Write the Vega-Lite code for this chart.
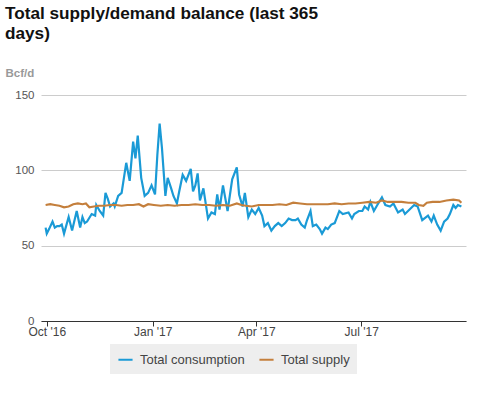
{
  "$schema": "https://vega.github.io/schema/vega-lite/v6.json",
  "width": 425,
  "height": 226,
  "autosize": "none",
  "padding": {"left": 41, "top": 95, "right": 11, "bottom": 72},
  "background": "white",
  "title": {
    "text": ["Total supply/demand balance (last 365", "days)"],
    "anchor": "start",
    "frame": "group",
    "dx": -36,
    "offset": 25,
    "font": "Liberation Sans",
    "fontSize": 17.2,
    "fontWeight": "bold",
    "color": "#111111",
    "lineHeight": 20
  },
  "config": {
    "view": {"stroke": null},
    "font": "Liberation Sans"
  },
  "data": {
    "values": [
      {"date": "2016-09-30", "series": "Total consumption", "value": 62},
      {"date": "2016-10-01", "series": "Total consumption", "value": 58},
      {"date": "2016-10-03", "series": "Total consumption", "value": 61},
      {"date": "2016-10-06", "series": "Total consumption", "value": 66},
      {"date": "2016-10-08", "series": "Total consumption", "value": 62},
      {"date": "2016-10-10", "series": "Total consumption", "value": 63},
      {"date": "2016-10-12", "series": "Total consumption", "value": 63},
      {"date": "2016-10-14", "series": "Total consumption", "value": 64},
      {"date": "2016-10-16", "series": "Total consumption", "value": 58},
      {"date": "2016-10-20", "series": "Total consumption", "value": 69},
      {"date": "2016-10-23", "series": "Total consumption", "value": 60},
      {"date": "2016-10-27", "series": "Total consumption", "value": 73},
      {"date": "2016-10-30", "series": "Total consumption", "value": 62},
      {"date": "2016-11-01", "series": "Total consumption", "value": 69},
      {"date": "2016-11-03", "series": "Total consumption", "value": 65},
      {"date": "2016-11-05", "series": "Total consumption", "value": 66},
      {"date": "2016-11-09", "series": "Total consumption", "value": 71},
      {"date": "2016-11-12", "series": "Total consumption", "value": 70},
      {"date": "2016-11-13", "series": "Total consumption", "value": 77},
      {"date": "2016-11-16", "series": "Total consumption", "value": 73},
      {"date": "2016-11-19", "series": "Total consumption", "value": 70},
      {"date": "2016-11-21", "series": "Total consumption", "value": 85},
      {"date": "2016-11-23", "series": "Total consumption", "value": 81},
      {"date": "2016-11-25", "series": "Total consumption", "value": 76},
      {"date": "2016-11-28", "series": "Total consumption", "value": 78},
      {"date": "2016-11-29", "series": "Total consumption", "value": 76},
      {"date": "2016-12-02", "series": "Total consumption", "value": 83},
      {"date": "2016-12-05", "series": "Total consumption", "value": 85},
      {"date": "2016-12-07", "series": "Total consumption", "value": 95},
      {"date": "2016-12-09", "series": "Total consumption", "value": 105},
      {"date": "2016-12-12", "series": "Total consumption", "value": 93},
      {"date": "2016-12-15", "series": "Total consumption", "value": 119},
      {"date": "2016-12-17", "series": "Total consumption", "value": 108},
      {"date": "2016-12-19", "series": "Total consumption", "value": 123},
      {"date": "2016-12-22", "series": "Total consumption", "value": 95},
      {"date": "2016-12-25", "series": "Total consumption", "value": 83},
      {"date": "2016-12-28", "series": "Total consumption", "value": 85},
      {"date": "2016-12-31", "series": "Total consumption", "value": 90},
      {"date": "2017-01-03", "series": "Total consumption", "value": 84},
      {"date": "2017-01-05", "series": "Total consumption", "value": 110},
      {"date": "2017-01-07", "series": "Total consumption", "value": 131},
      {"date": "2017-01-09", "series": "Total consumption", "value": 115},
      {"date": "2017-01-12", "series": "Total consumption", "value": 83},
      {"date": "2017-01-14", "series": "Total consumption", "value": 95},
      {"date": "2017-01-17", "series": "Total consumption", "value": 88},
      {"date": "2017-01-19", "series": "Total consumption", "value": 83},
      {"date": "2017-01-22", "series": "Total consumption", "value": 78},
      {"date": "2017-01-24", "series": "Total consumption", "value": 86},
      {"date": "2017-01-27", "series": "Total consumption", "value": 97},
      {"date": "2017-01-30", "series": "Total consumption", "value": 93},
      {"date": "2017-02-03", "series": "Total consumption", "value": 101},
      {"date": "2017-02-05", "series": "Total consumption", "value": 86},
      {"date": "2017-02-07", "series": "Total consumption", "value": 90},
      {"date": "2017-02-09", "series": "Total consumption", "value": 98},
      {"date": "2017-02-11", "series": "Total consumption", "value": 80},
      {"date": "2017-02-14", "series": "Total consumption", "value": 88},
      {"date": "2017-02-18", "series": "Total consumption", "value": 68},
      {"date": "2017-02-21", "series": "Total consumption", "value": 72},
      {"date": "2017-02-24", "series": "Total consumption", "value": 71},
      {"date": "2017-02-26", "series": "Total consumption", "value": 84},
      {"date": "2017-02-28", "series": "Total consumption", "value": 74},
      {"date": "2017-03-03", "series": "Total consumption", "value": 90},
      {"date": "2017-03-07", "series": "Total consumption", "value": 73},
      {"date": "2017-03-11", "series": "Total consumption", "value": 94},
      {"date": "2017-03-15", "series": "Total consumption", "value": 102},
      {"date": "2017-03-17", "series": "Total consumption", "value": 84},
      {"date": "2017-03-20", "series": "Total consumption", "value": 76},
      {"date": "2017-03-22", "series": "Total consumption", "value": 85},
      {"date": "2017-03-25", "series": "Total consumption", "value": 69},
      {"date": "2017-03-28", "series": "Total consumption", "value": 74},
      {"date": "2017-03-31", "series": "Total consumption", "value": 71},
      {"date": "2017-04-03", "series": "Total consumption", "value": 75},
      {"date": "2017-04-06", "series": "Total consumption", "value": 70},
      {"date": "2017-04-08", "series": "Total consumption", "value": 63},
      {"date": "2017-04-11", "series": "Total consumption", "value": 65},
      {"date": "2017-04-14", "series": "Total consumption", "value": 60},
      {"date": "2017-04-17", "series": "Total consumption", "value": 63},
      {"date": "2017-04-20", "series": "Total consumption", "value": 65},
      {"date": "2017-04-23", "series": "Total consumption", "value": 63},
      {"date": "2017-04-26", "series": "Total consumption", "value": 65},
      {"date": "2017-04-29", "series": "Total consumption", "value": 68},
      {"date": "2017-05-02", "series": "Total consumption", "value": 67},
      {"date": "2017-05-05", "series": "Total consumption", "value": 67},
      {"date": "2017-05-07", "series": "Total consumption", "value": 68},
      {"date": "2017-05-10", "series": "Total consumption", "value": 64},
      {"date": "2017-05-13", "series": "Total consumption", "value": 62},
      {"date": "2017-05-15", "series": "Total consumption", "value": 67},
      {"date": "2017-05-18", "series": "Total consumption", "value": 73},
      {"date": "2017-05-20", "series": "Total consumption", "value": 63},
      {"date": "2017-05-23", "series": "Total consumption", "value": 64},
      {"date": "2017-05-26", "series": "Total consumption", "value": 61},
      {"date": "2017-05-28", "series": "Total consumption", "value": 58},
      {"date": "2017-05-31", "series": "Total consumption", "value": 62},
      {"date": "2017-06-02", "series": "Total consumption", "value": 61},
      {"date": "2017-06-05", "series": "Total consumption", "value": 64},
      {"date": "2017-06-08", "series": "Total consumption", "value": 65},
      {"date": "2017-06-12", "series": "Total consumption", "value": 73},
      {"date": "2017-06-15", "series": "Total consumption", "value": 71},
      {"date": "2017-06-20", "series": "Total consumption", "value": 72},
      {"date": "2017-06-23", "series": "Total consumption", "value": 68},
      {"date": "2017-06-25", "series": "Total consumption", "value": 71},
      {"date": "2017-06-29", "series": "Total consumption", "value": 73},
      {"date": "2017-07-02", "series": "Total consumption", "value": 73},
      {"date": "2017-07-04", "series": "Total consumption", "value": 76},
      {"date": "2017-07-07", "series": "Total consumption", "value": 74},
      {"date": "2017-07-09", "series": "Total consumption", "value": 79},
      {"date": "2017-07-12", "series": "Total consumption", "value": 73},
      {"date": "2017-07-15", "series": "Total consumption", "value": 77},
      {"date": "2017-07-19", "series": "Total consumption", "value": 82},
      {"date": "2017-07-22", "series": "Total consumption", "value": 77},
      {"date": "2017-07-26", "series": "Total consumption", "value": 76},
      {"date": "2017-07-29", "series": "Total consumption", "value": 78},
      {"date": "2017-08-02", "series": "Total consumption", "value": 72},
      {"date": "2017-08-06", "series": "Total consumption", "value": 74},
      {"date": "2017-08-08", "series": "Total consumption", "value": 71},
      {"date": "2017-08-12", "series": "Total consumption", "value": 74},
      {"date": "2017-08-16", "series": "Total consumption", "value": 77},
      {"date": "2017-08-19", "series": "Total consumption", "value": 76},
      {"date": "2017-08-23", "series": "Total consumption", "value": 67},
      {"date": "2017-08-28", "series": "Total consumption", "value": 70},
      {"date": "2017-08-31", "series": "Total consumption", "value": 66},
      {"date": "2017-09-02", "series": "Total consumption", "value": 70},
      {"date": "2017-09-05", "series": "Total consumption", "value": 64},
      {"date": "2017-09-08", "series": "Total consumption", "value": 60},
      {"date": "2017-09-11", "series": "Total consumption", "value": 66},
      {"date": "2017-09-14", "series": "Total consumption", "value": 68},
      {"date": "2017-09-16", "series": "Total consumption", "value": 71},
      {"date": "2017-09-19", "series": "Total consumption", "value": 77},
      {"date": "2017-09-21", "series": "Total consumption", "value": 75},
      {"date": "2017-09-23", "series": "Total consumption", "value": 77},
      {"date": "2017-09-26", "series": "Total consumption", "value": 76},

      {"date": "2016-09-30", "series": "Total supply", "value": 77},
      {"date": "2016-10-04", "series": "Total supply", "value": 77.5},
      {"date": "2016-10-08", "series": "Total supply", "value": 77},
      {"date": "2016-10-12", "series": "Total supply", "value": 76.5},
      {"date": "2016-10-16", "series": "Total supply", "value": 75.5},
      {"date": "2016-10-20", "series": "Total supply", "value": 76},
      {"date": "2016-10-24", "series": "Total supply", "value": 77.5},
      {"date": "2016-10-28", "series": "Total supply", "value": 78},
      {"date": "2016-11-01", "series": "Total supply", "value": 77.5},
      {"date": "2016-11-04", "series": "Total supply", "value": 78},
      {"date": "2016-11-07", "series": "Total supply", "value": 75.5},
      {"date": "2016-11-11", "series": "Total supply", "value": 76},
      {"date": "2016-11-15", "series": "Total supply", "value": 76.5},
      {"date": "2016-11-20", "series": "Total supply", "value": 76.5},
      {"date": "2016-11-25", "series": "Total supply", "value": 77},
      {"date": "2016-11-30", "series": "Total supply", "value": 77},
      {"date": "2016-12-05", "series": "Total supply", "value": 76.5},
      {"date": "2016-12-10", "series": "Total supply", "value": 77},
      {"date": "2016-12-15", "series": "Total supply", "value": 77},
      {"date": "2016-12-20", "series": "Total supply", "value": 77.5},
      {"date": "2016-12-24", "series": "Total supply", "value": 76},
      {"date": "2016-12-28", "series": "Total supply", "value": 77.5},
      {"date": "2017-01-02", "series": "Total supply", "value": 77},
      {"date": "2017-01-08", "series": "Total supply", "value": 76.5},
      {"date": "2017-01-14", "series": "Total supply", "value": 77},
      {"date": "2017-01-20", "series": "Total supply", "value": 76.5},
      {"date": "2017-01-26", "series": "Total supply", "value": 77},
      {"date": "2017-02-01", "series": "Total supply", "value": 77},
      {"date": "2017-02-07", "series": "Total supply", "value": 77.5},
      {"date": "2017-02-13", "series": "Total supply", "value": 77},
      {"date": "2017-02-19", "series": "Total supply", "value": 77},
      {"date": "2017-02-25", "series": "Total supply", "value": 76.5},
      {"date": "2017-03-03", "series": "Total supply", "value": 77},
      {"date": "2017-03-09", "series": "Total supply", "value": 76.5},
      {"date": "2017-03-15", "series": "Total supply", "value": 78},
      {"date": "2017-03-19", "series": "Total supply", "value": 77},
      {"date": "2017-03-23", "series": "Total supply", "value": 76.5},
      {"date": "2017-03-28", "series": "Total supply", "value": 76},
      {"date": "2017-04-03", "series": "Total supply", "value": 77},
      {"date": "2017-04-09", "series": "Total supply", "value": 77},
      {"date": "2017-04-15", "series": "Total supply", "value": 77},
      {"date": "2017-04-21", "series": "Total supply", "value": 77.5},
      {"date": "2017-04-27", "series": "Total supply", "value": 77},
      {"date": "2017-05-03", "series": "Total supply", "value": 78.5},
      {"date": "2017-05-09", "series": "Total supply", "value": 78},
      {"date": "2017-05-15", "series": "Total supply", "value": 77.5},
      {"date": "2017-05-21", "series": "Total supply", "value": 77.5},
      {"date": "2017-05-27", "series": "Total supply", "value": 77.5},
      {"date": "2017-06-02", "series": "Total supply", "value": 77.5},
      {"date": "2017-06-08", "series": "Total supply", "value": 78},
      {"date": "2017-06-14", "series": "Total supply", "value": 77.5},
      {"date": "2017-06-20", "series": "Total supply", "value": 78},
      {"date": "2017-06-26", "series": "Total supply", "value": 78},
      {"date": "2017-07-02", "series": "Total supply", "value": 78.5},
      {"date": "2017-07-08", "series": "Total supply", "value": 79},
      {"date": "2017-07-14", "series": "Total supply", "value": 78.5},
      {"date": "2017-07-19", "series": "Total supply", "value": 80},
      {"date": "2017-07-24", "series": "Total supply", "value": 79},
      {"date": "2017-07-30", "series": "Total supply", "value": 79},
      {"date": "2017-08-05", "series": "Total supply", "value": 79},
      {"date": "2017-08-11", "series": "Total supply", "value": 78.5},
      {"date": "2017-08-17", "series": "Total supply", "value": 78.5},
      {"date": "2017-08-20", "series": "Total supply", "value": 77},
      {"date": "2017-08-24", "series": "Total supply", "value": 76.5},
      {"date": "2017-08-27", "series": "Total supply", "value": 78.5},
      {"date": "2017-09-01", "series": "Total supply", "value": 79},
      {"date": "2017-09-07", "series": "Total supply", "value": 79},
      {"date": "2017-09-13", "series": "Total supply", "value": 80},
      {"date": "2017-09-19", "series": "Total supply", "value": 80.5},
      {"date": "2017-09-24", "series": "Total supply", "value": 80},
      {"date": "2017-09-26", "series": "Total supply", "value": 78.5}
    ]
  },
  "mark": {"type": "line", "strokeWidth": 2.2, "clip": true},
  "encoding": {
    "x": {
      "field": "date",
      "type": "temporal",
      "scale": {"domain": ["2016-09-26", "2017-09-30"]},
      "axis": {
        "title": null,
        "values": ["2016-10-01", "2017-01-01", "2017-04-01", "2017-07-01"],
        "format": "%b '%y",
        "grid": false,
        "domainColor": "#333333",
        "domainWidth": 1,
        "tickColor": "#333333",
        "tickSize": 5,
        "labelFontSize": 12,
        "labelColor": "#444444",
        "labelPadding": 0,
        "labelFont": "Liberation Sans",
        "labelFlush": false
      }
    },
    "y": {
      "field": "value",
      "type": "quantitative",
      "scale": {"domain": [0, 150], "nice": false},
      "axis": {
        "title": "Bcf/d",
        "titleAngle": 0,
        "titleAlign": "left",
        "titleBaseline": "alphabetic",
        "titleX": -36,
        "titleY": -19,
        "titleFontSize": 11.5,
        "titleFontWeight": "bold",
        "titleColor": "#999999",
        "titleFont": "Liberation Sans",
        "values": [0, 50, 100, 150],
        "domain": false,
        "ticks": false,
        "gridColor": "#cccccc",
        "gridWidth": 1,
        "labelFontSize": 11.5,
        "labelColor": "#555555",
        "labelPadding": 7,
        "labelFont": "Liberation Sans"
      }
    },
    "color": {
      "field": "series",
      "type": "nominal",
      "scale": {
        "domain": ["Total consumption", "Total supply"],
        "range": ["#1a9ad6", "#c47f3c"]
      },
      "legend": {
        "title": null,
        "orient": "none",
        "legendX": 69,
        "legendY": 249,
        "direction": "horizontal",
        "fillColor": "#eeeeee",
        "padding": 7,
        "symbolType": "stroke",
        "symbolStrokeWidth": 2,
        "symbolSize": 200,
        "labelFontSize": 13,
        "labelColor": "#444444",
        "labelFont": "Liberation Sans",
        "columnPadding": 10,
        "labelOffset": 6
      }
    }
  }
}
